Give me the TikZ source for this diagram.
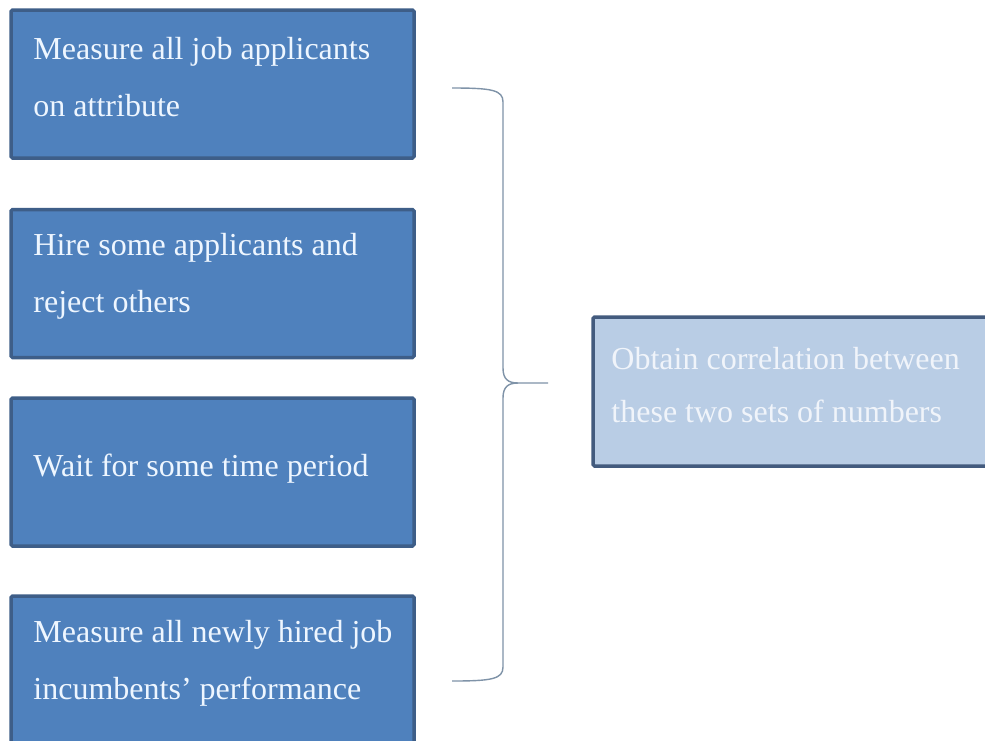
\documentclass[tikz,border=0pt]{standalone}
\usepackage{fontspec}
\setmainfont{Liberation Serif}
\definecolor{lfill}{HTML}{4F81BD}
\definecolor{lborder}{HTML}{3E5E88}
\definecolor{rfill}{HTML}{B9CDE5}
\definecolor{rborder}{HTML}{435B7E}
\definecolor{ltext}{HTML}{EEF6FF}
\definecolor{rtext}{HTML}{F0F4FA}
\definecolor{bracec}{HTML}{7F93A8}
\begin{document}
\begin{tikzpicture}[x=1pt,y=-1pt,
  lbox/.style={draw=lborder,fill=lfill,line width=3.5pt,rounded corners=1.5pt,minimum width=403pt,minimum height=148pt,inner sep=0pt},
  rbox/.style={draw=rborder,fill=rfill,line width=3.5pt,rounded corners=1.5pt,minimum width=420pt,minimum height=149pt,inner sep=0pt},
  ltxt/.style={text=ltext,anchor=west,align=left,inner sep=0pt,font=\fontsize{32}{57}\selectfont},
  rtxt/.style={text=rtext,anchor=west,align=left,inner sep=0pt,font=\fontsize{32}{53}\selectfont},
  bracel/.style={draw=bracec,line width=1.4pt}]
\useasboundingbox[fill=white] (0,0) rectangle (985,740);
\node[lbox] (b1) at (212.5,84) {};
\node[lbox] (b2) at (212.5,283.5) {};
\node[lbox] (b3) at (212.5,472) {};
\node[lbox] (b4) at (212.5,670) {};
\node[rbox] (r) at (803,391.5) {};
\node[ltxt] (t1) at ([xshift=24pt,yshift=7pt]b1.west) {Measure all job applicants\\on attribute};
\node[ltxt] (t2) at ([xshift=24pt,yshift=7pt]b2.west) {Hire some applicants and\\reject others};
\node[ltxt] (t3) at ([xshift=24pt,yshift=3pt]b3.west) {Wait for some time period};
\node[ltxt] (t4) at ([xshift=24pt,yshift=7pt]b4.west) {Measure all newly hired job\\incumbents’ performance};
\node[rtxt] (tr) at ([xshift=20pt,yshift=6pt]r.west) {Obtain correlation between\\these two sets of numbers};
\coordinate (btop) at (452,88);
\coordinate (bbot) at (452,681);
\coordinate (tip) at (548,383);
\draw[bracel] (btop) .. controls (492,88) and (503,90) .. (503,102)
  -- (503,368) .. controls (503,379) and (508,383) .. (518,383) -- (tip);
\draw[bracel] (bbot) .. controls (492,681) and (503,679) .. (503,667)
  -- (503,398) .. controls (503,387) and (508,383) .. (518,383);
\end{tikzpicture}
\end{document}
